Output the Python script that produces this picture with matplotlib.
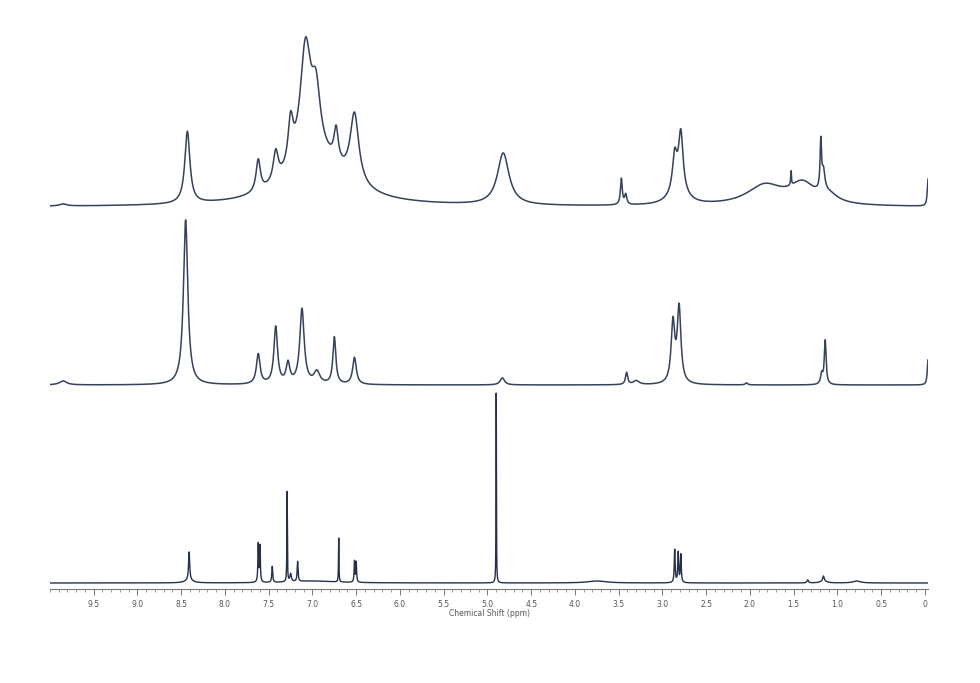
import numpy as np
import matplotlib
matplotlib.use("Agg")
import matplotlib.pyplot as plt
from matplotlib.ticker import MultipleLocator, FixedLocator, FixedFormatter

# ---- data: peak lists (ppm, height, FWHM) ----
top_centers = [9.85, 8.43, 7.62, 7.42, 7.25, 7.08, 6.96, 6.73, 6.52, 6.95,
               4.82, 3.47, 3.42, 2.86, 2.79, 2.82, 1.83, 1.40, 1.53, 1.19, 1.16, 1.10, -0.035]
top_heights = [2, 72, 32, 30, 44, 114, 58, 33, 70, 45,
               52, 26, 10, 34, 55, 17, 20, 20, 14, 48, 20, 8, 27]
top_widths = [0.10, 0.07, 0.06, 0.07, 0.07, 0.15, 0.12, 0.06, 0.12, 0.8,
              0.16, 0.025, 0.03, 0.06, 0.06, 0.2, 0.5, 0.35, 0.01, 0.02, 0.04, 0.25, 0.02]

mid_centers = [9.85, 8.45, 7.62, 7.42, 7.28, 7.12, 6.95, 6.75, 6.52, 4.83,
               3.41, 3.30, 2.88, 2.81, 2.04, 1.14, 1.18, -0.035]
mid_heights = [4, 165, 30, 57, 20, 75, 12, 47, 27, 7,
               12, 4, 60, 75, 2, 44, 10, 25]
mid_widths = [0.10, 0.06, 0.05, 0.05, 0.05, 0.06, 0.08, 0.04, 0.05, 0.06,
              0.03, 0.08, 0.05, 0.05, 0.03, 0.025, 0.03, 0.02]

bot_centers = [8.41, 8.41, 7.62, 7.60, 7.46, 7.29, 7.25, 7.17, 7.0, 6.70, 6.52, 6.50,
               4.90, 3.75, 2.86, 2.82, 2.79, 1.34, 1.16, 1.16, 0.78]
bot_heights = [28, 3, 38, 36, 16, 90, 8, 20, 2, 44, 21, 20,
               190, 2, 33, 30, 28, 3, 5, 2, 2]
bot_widths = [0.015, 0.10, 0.010, 0.010, 0.012, 0.006, 0.02, 0.012, 0.6, 0.006, 0.010, 0.010,
              0.005, 0.25, 0.012, 0.012, 0.012, 0.02, 0.02, 0.08, 0.10]

tick_values = [9.5, 9.0, 8.5, 8.0, 7.5, 7.0, 6.5, 6.0, 5.5, 5.0, 4.5, 4.0,
               3.5, 3.0, 2.5, 2.0, 1.5, 1.0, 0.5, 0.0]
tick_labels = ["9.5", "9.0", "8.5", "8.0", "7.5", "7.0", "6.5", "6.0", "5.5", "5.0",
               "4.5", "4.0", "3.5", "3.0", "2.5", "2.0", "1.5", "1.0", "0.5", "0"]
x_label = "Chemical Shift (ppm)"

# ---- layout ----
offsets = [382, 204, 6]
ppm = np.linspace(10.0, -0.035, 40000)


def spectrum(centers, heights, widths):
    y = np.zeros_like(ppm)
    for c, h, w in zip(centers, heights, widths):
        y += h / (1.0 + ((ppm - c) / (w / 2.0)) ** 2)
    return y


fig = plt.figure(figsize=(9.8, 6.83), dpi=100)
ax = fig.add_axes([50 / 980, (683 - 589) / 683, (928 - 50) / 980, (589 - 30) / 683])

color = "#36425a"
for (c, h, w), off, lw, col in zip(
        [(top_centers, top_heights, top_widths),
         (mid_centers, mid_heights, mid_widths),
         (bot_centers, bot_heights, bot_widths)],
        offsets, [1.1, 1.1, 1.0], [color, color, "#26304a"]):
    ax.plot(ppm, spectrum(c, h, w) + off, color=col, lw=lw)

ax.set_xlim(10.0, -0.035)
ax.set_ylim(0, 559)
for s in ["top", "left", "right"]:
    ax.spines[s].set_visible(False)
ax.spines["bottom"].set_color("#777777")
ax.spines["bottom"].set_linewidth(0.8)
ax.set_yticks([])
ax.xaxis.set_major_locator(FixedLocator(tick_values))
ax.xaxis.set_major_formatter(FixedFormatter(tick_labels))
ax.xaxis.set_minor_locator(MultipleLocator(0.1))
ax.tick_params(axis="x", which="major", length=4, width=0.7, color="#777777",
               labelsize=5.5, labelcolor="#555555", pad=4)
ax.tick_params(axis="x", which="minor", length=2, width=0.6, color="#888888")
ax.set_xlabel(x_label, fontsize=5.5, color="#555555", labelpad=0)

fig.savefig("out.png", dpi=100)
